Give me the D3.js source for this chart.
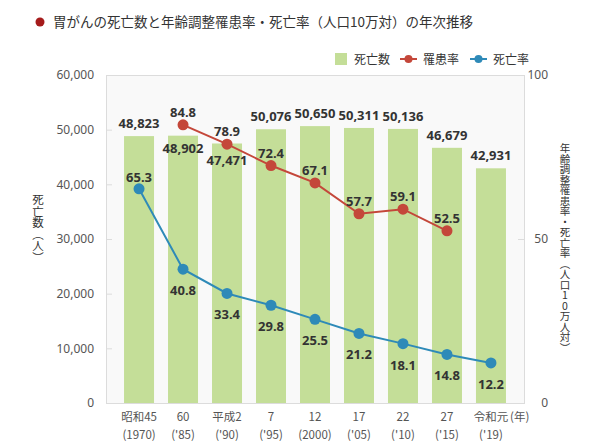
<!DOCTYPE html>
<html><head><meta charset="utf-8">
<script src="https://cdn.jsdelivr.net/npm/d3@7"></script>
<style>
html,body{margin:0;padding:0;background:#fff;}
svg{font-family:"Noto Sans CJK JP","Noto Sans",sans-serif;display:block;}
</style></head><body>
<svg id="c" width="602" height="448"></svg>
<script>
const categoriesTop = ["昭和45","60","平成2","7","12","17","22","27","令和元"];
const categoriesBottom = ["(1970)","('85)","('90)","('95)","(2000)","('05)","('10)","('15)","('19)"];
const deaths = [48823, 48902, 47471, 50076, 50650, 50311, 50136, 46679, 42931];
const incidence = [null, 84.8, 78.9, 72.4, 67.1, 57.7, 59.1, 52.5, null];
const mortality = [65.3, 40.8, 33.4, 29.8, 25.5, 21.2, 18.1, 14.8, 12.2];
const leftTicks = [0, 10000, 20000, 30000, 40000, 50000, 60000];
const rightTicks = [0, 50, 100];
const seriesNames = ["死亡数", "罹患率", "死亡率"];
const title = "胃がんの死亡数と年齢調整罹患率・死亡率（人口10万対）の年次推移";

const C = {bar:"#c4de98", red:"#c4473a", blue:"#2e8ab8", text:"#333", axis:"#555"};
const L = 106, R = 524, T = 75, B = 403;
const svg = d3.select("#c");
const numFont = "'Noto Sans','Noto Sans CJK JP',sans-serif";

// title
svg.append("circle").attr("cx",40).attr("cy",22).attr("r",4.5).attr("fill","#a51b1b");
svg.append("text").attr("x",53).attr("y",27).attr("font-size",13.5).attr("fill","#333").text(title);

const x = d3.scaleBand().domain(d3.range(categoriesTop.length)).range([L,R]).paddingInner(14/44).paddingOuter(0.41);
const yL = d3.scaleLinear().domain([0,60000]).range([B,T]);
const yR = d3.scaleLinear().domain([0,100]).range([B,T]);

// plot background
svg.append("rect").attr("x",L).attr("y",T).attr("width",R-L).attr("height",B-T)
  .attr("fill","#f9f9f9").attr("stroke","#dcdcdc").attr("stroke-width",1).attr("shape-rendering","crispEdges");

// axes
const fmt = d3.format(",");
const gl = svg.append("g").attr("transform",`translate(${L},0)`)
  .call(d3.axisLeft(yL).tickValues(leftTicks).tickFormat(fmt).tickSize(0).tickPadding(12));
gl.select(".domain").remove();
gl.selectAll("text").attr("font-size",12).attr("fill",C.axis).attr("font-family",numFont);
svg.append("g").selectAll("line").data(leftTicks.filter(d=>d>0&&d<60000)).join("line")
  .attr("x1",L).attr("x2",L+6).attr("y1",d=>yL(d)+0.5).attr("y2",d=>yL(d)+0.5).attr("stroke","#dcdcdc");

const gr = svg.append("g").attr("transform",`translate(${R},0)`)
  .call(d3.axisRight(yR).tickValues(rightTicks).tickSize(0).tickPadding(24));
gr.select(".domain").remove();
gr.selectAll("text").attr("font-size",12).attr("fill",C.axis).attr("font-family",numFont).attr("text-anchor","end");
svg.append("g").selectAll("line").data(rightTicks.filter(d=>d>0&&d<100)).join("line")
  .attr("x1",R-6).attr("x2",R).attr("y1",d=>yR(d)+0.5).attr("y2",d=>yR(d)+0.5).attr("stroke","#dcdcdc");

// axis titles (vertical)
svg.append("text").attr("x",38).attr("y",194).attr("font-size",11.5).attr("fill",C.text)
  .style("writing-mode","vertical-rl").style("text-orientation","upright").text("死亡数（人）");
svg.append("text").attr("x",565).attr("y",143).attr("font-size",10.5).attr("fill",C.text)
  .style("writing-mode","vertical-rl").style("text-orientation","upright").text("年齢調整罹患率・死亡率（人口10万人対）");

// bars
const cx = i => x(i) + x.bandwidth()/2;
svg.append("g").selectAll("rect").data(deaths).join("rect")
  .attr("x",(d,i)=>x(i)).attr("width",x.bandwidth())
  .attr("y",d=>yL(d)).attr("height",d=>B-yL(d)).attr("fill",C.bar);

// bar labels: some placed inside to avoid overlapping the line labels
const insideLabel = {1:17, 2:22};
svg.append("g").selectAll("text").data(deaths).join("text")
  .attr("x",(d,i)=>cx(i)).attr("y",(d,i)=> insideLabel[i]!==undefined ? yL(d)+insideLabel[i] : yL(d)-8)
  .attr("text-anchor","middle").attr("font-size",13).attr("font-weight","bold").attr("fill",C.text)
  .attr("font-family",numFont)
  .text(d=>fmt(d));

// x labels
const gx = svg.append("g");
gx.selectAll("text.t").data(categoriesTop).join("text").attr("class","t")
  .attr("x",(d,i)=>cx(i)).attr("y",421).attr("text-anchor","middle").attr("font-size",11.5).attr("fill",C.axis).text(d=>d);
gx.selectAll("text.b").data(categoriesBottom).join("text").attr("class","b")
  .attr("x",(d,i)=>cx(i)).attr("y",439).attr("text-anchor","middle").attr("font-size",11.5).attr("fill",C.axis).text(d=>d);
gx.append("text").attr("x",510).attr("y",421).attr("font-size",11.5).attr("fill",C.axis).text("(年)");

// lines
function drawLine(vals, color, labelDy){
  const pts = vals.map((v,i)=>({v,i})).filter(p=>p.v!==null);
  const line = d3.line().x(p=>cx(p.i)).y(p=>yR(p.v));
  svg.append("path").datum(pts).attr("d",line).attr("fill","none").attr("stroke",color).attr("stroke-width",2);
  svg.append("g").selectAll("circle").data(pts).join("circle")
    .attr("cx",p=>cx(p.i)).attr("cy",p=>yR(p.v)).attr("r",5.5).attr("fill",color);
  svg.append("g").selectAll("text").data(pts).join("text")
    .attr("x",p=>cx(p.i)).attr("y",p=>yR(p.v)+labelDy(p))
    .attr("text-anchor","middle").attr("font-size",13).attr("font-weight","bold").attr("fill",C.text)
    .attr("font-family",numFont)
    .text(p=>p.v.toFixed(1));
}
drawLine(incidence, C.red, p=>-8);
drawLine(mortality, C.blue, p=> p.i===0 ? -7 : 26);

// legend
const lg = svg.append("g").attr("font-size",12).attr("fill",C.text);
lg.append("rect").attr("x",335).attr("y",53).attr("width",12).attr("height",12).attr("fill",C.bar);
lg.append("text").attr("x",354).attr("y",64).text(seriesNames[0]);
[[C.red,400,seriesNames[1],423],[C.blue,470,seriesNames[2],493]].forEach(([c,x0,t,tx])=>{
  lg.append("line").attr("x1",x0).attr("x2",x0+17).attr("y1",59).attr("y2",59).attr("stroke",c).attr("stroke-width",2);
  lg.append("circle").attr("cx",x0+8.5).attr("cy",59).attr("r",4).attr("fill",c);
  lg.append("text").attr("x",tx).attr("y",64).text(t);
});
</script>
</body></html>
